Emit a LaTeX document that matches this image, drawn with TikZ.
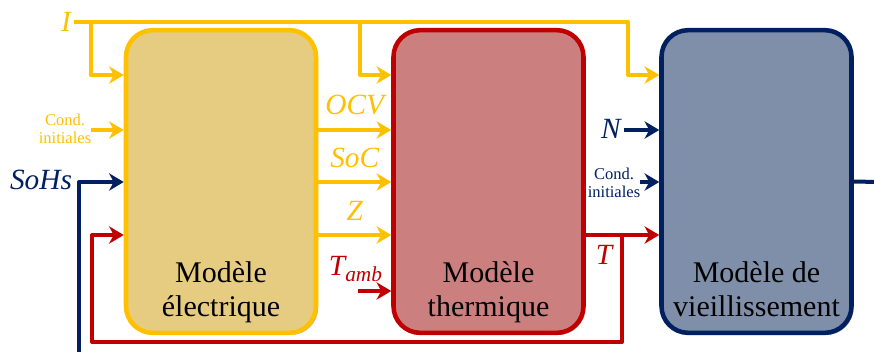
\documentclass[tikz,border=0pt]{standalone}
\usepackage{fontspec}
\setmainfont{Liberation Serif}
\usetikzlibrary{positioning, arrows.meta, shadows}

\begin{document}
\begin{tikzpicture}[
    x=0.75pt, y=-0.75pt, % coordinates in pixels, y downwards
    >={Stealth[length=11pt, width=13pt, inset=3.5pt]}, % arrow tips
    % --- colours of the three models ---
    elecFill/.style={fill={rgb,255:red,230;green,204;blue,128}, draw={rgb,255:red,255;green,192;blue,0}},
    thermFill/.style={fill={rgb,255:red,204;green,127;blue,127}, draw={rgb,255:red,192;green,0;blue,0}},
    ageFill/.style={fill={rgb,255:red,127;green,143;blue,169}, draw={rgb,255:red,0;green,32;blue,96}},
    % --- blocks ---
    block/.style={line width=3.4pt, rounded corners=20pt, minimum width=142.5pt, minimum height=227pt,
        drop shadow={shadow xshift=1.5pt, shadow yshift=-1.5pt, opacity=0.3, fill=black}},
    caption/.style={font=\fontsize{22.5}{25.5}\selectfont, align=center, inner sep=0pt, text depth=5pt},
    % --- signal labels ---
    sig/.style={font=\fontsize{22}{24}\selectfont\itshape, inner sep=2pt},
    cond/.style={font=\fontsize{12.4}{14}\selectfont, align=center, inner sep=0pt},
    yelText/.style={text={rgb,255:red,255;green,192;blue,0}},
    redText/.style={text={rgb,255:red,192;green,0;blue,0}},
    bluText/.style={text={rgb,255:red,0;green,32;blue,96}},
    % --- connectors ---
    yel_arrow/.style={->, line width=3pt, line join=round, draw={rgb,255:red,255;green,192;blue,0}},
    red_arrow/.style={->, line width=3pt, line join=round, draw={rgb,255:red,192;green,0;blue,0}},
    blu_arrow/.style={->, line width=3pt, line join=round, draw={rgb,255:red,0;green,32;blue,96}},
    blu_line/.style={line width=3pt, draw={rgb,255:red,0;green,32;blue,96}}
]
    \useasboundingbox (0, 0) rectangle (874, 351);

    % ===========================
    % 1. BLOCKS
    % ===========================
    \node[block, elecFill]  (elec)  at (221, 181.5)   {};
    \node[block, thermFill] (therm) at (488.5, 181.5) {};
    \node[block, ageFill]   (aging) at (756.5, 181.5) {};

    \node[caption] (elecTxt)  [above=8.5pt of elec.south]  {Modèle\\électrique};
    \node[caption] (thermTxt) [above=8.5pt of therm.south] {Modèle\\thermique};
    \node[caption] (agingTxt) [above=8.5pt of aging.south] {Modèle de\\vieillissement};

    % ===========================
    % 2. INPUT LABELS
    % ===========================
    \node[sig, yelText]  (I)     at (66, 22)   {I};
    \node[cond, yelText] (condE) at (65, 129)  {Cond.\\initiales};
    \node[sig, bluText]  (SoHs)  at (41, 180)  {SoHs};
    \node[sig, redText, anchor=base west] (tamb) at (326, 275) {T\raisebox{-5pt}{\fontsize{16}{16}\selectfont amb}};
    \node[sig, redText]  (T)     at (604, 255) {T};
    \node[sig, bluText]  (N)     at (611, 129) {N};
    \node[cond, bluText] (condA) at (614, 183) {Cond.\\initiales};

    % rows and junctions
    \coordinate (rowI)  at (0, 75);
    \coordinate (rowA)  at (0, 130);
    \coordinate (rowB)  at (0, 182);
    \coordinate (rowC)  at (0, 235);
    \coordinate (jI1)   at (91, 22);
    \coordinate (jI2)   at (360, 22);
    \coordinate (jI3)   at (628, 22);
    \coordinate (jT)    at (622, 235);
    \coordinate (fbT)   at (92, 342);
    \coordinate (sohsIn) at (79, 356);
    \coordinate (tambIn) at (358, 291);
    \coordinate (agOut) at (878, 182);

    % ===========================
    % 3. CONNECTORS
    % ===========================
    % current I to the three models
    \draw[yel_arrow] (I.east) -- (jI3) |- (aging.west |- rowI);
    \draw[yel_arrow] (jI1) |- (elec.west |- rowI);
    \draw[yel_arrow] (jI2) |- (therm.west |- rowI);

    % inputs of the electrical model
    \draw[yel_arrow] (condE.east |- rowA) -- (elec.west |- rowA);
    \draw[blu_arrow] (sohsIn) |- (elec.west |- rowB);

    % electrical -> thermal
    \draw[yel_arrow] (elec.east |- rowA) -- node[sig, yelText, above=7.5pt] (ocv) {OCV} (therm.west |- rowA);
    \draw[yel_arrow] (elec.east |- rowB) -- node[sig, yelText, above=7.5pt] (soc) {SoC} (therm.west |- rowB);
    \draw[yel_arrow] (elec.east |- rowC) -- node[sig, yelText, above=7.5pt] (z) {Z} (therm.west |- rowC);
    \draw[red_arrow] (tambIn) -- (therm.west |- tambIn);

    % temperature T to ageing and back to the electrical model
    \draw[red_arrow] (therm.east |- rowC) -- (aging.west |- rowC);
    \draw[red_arrow] (jT) |- (fbT) |- (elec.west |- rowC);

    % inputs and output of the ageing model
    \draw[blu_arrow] (N.east |- rowA) -- (aging.west |- rowA);
    \draw[blu_arrow] (condA.east |- rowB) -- (aging.west |- rowB);
    \draw[blu_line] (aging.east) -- (agOut);

\end{tikzpicture}
\end{document}
